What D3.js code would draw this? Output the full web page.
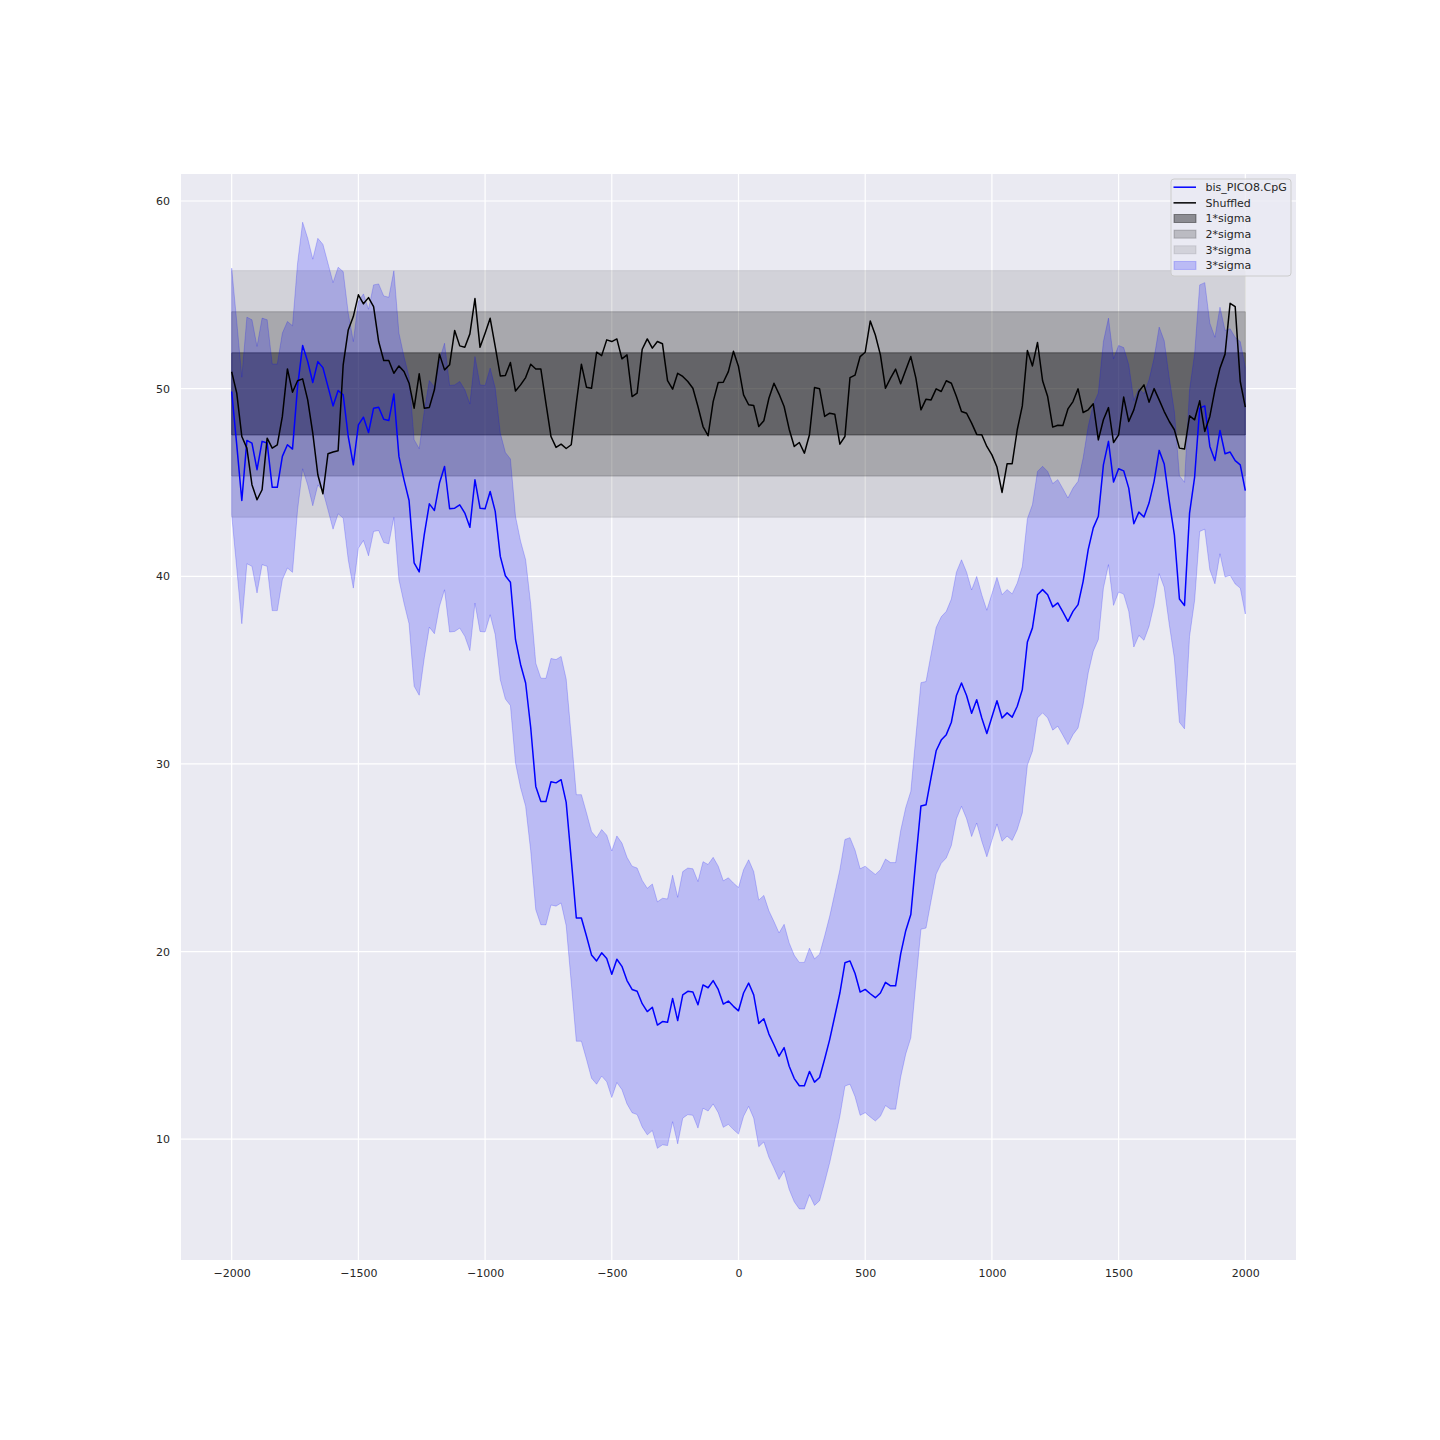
<!DOCTYPE html>
<html><head><meta charset="utf-8">
<script src="https://cdn.jsdelivr.net/npm/d3@7"></script>
<style>body{margin:0;background:#fff} svg{display:block}</style>
</head><body>
<svg id="chart" width="1440" height="1440"></svg>
<script>
// ---------- data ----------
const xPositions = d3.range(-2000, 2001, 20);   // sampling positions (201)
const picoValues = [
49.85,47.0,44.04,47.24,47.1,45.68,47.19,47.1,44.74,44.74,
46.39,47.01,46.78,50.11,52.3,51.44,50.33,51.44,51.12,50.11,
49.08,49.9,49.67,47.45,45.94,48.07,48.48,47.66,48.96,49.01,
48.37,48.3,49.71,46.39,45.14,44.04,40.71,40.23,42.22,43.86,
43.51,44.97,45.85,43.6,43.63,43.81,43.37,42.61,45.14,43.63,
43.6,44.52,43.46,41.06,40.03,39.68,36.62,35.3,34.31,31.94,
28.8,28.0,27.99,29.05,28.99,29.16,27.95,24.91,21.79,21.79,
20.83,19.82,19.5,19.93,19.63,18.79,19.59,19.21,18.45,17.98,
17.88,17.22,16.8,17.03,16.08,16.27,16.23,17.5,16.32,17.69,
17.88,17.84,17.16,18.22,18.07,18.45,17.98,17.2,17.36,17.08,
16.84,17.79,18.32,17.69,16.17,16.42,15.6,15.03,14.42,14.88,
13.89,13.23,12.85,12.85,13.61,13.04,13.29,14.27,15.32,16.55,
17.79,19.4,19.5,18.83,17.84,17.98,17.75,17.54,17.79,18.36,
18.17,18.17,19.88,21.11,21.97,24.91,27.76,27.82,29.28,30.7,
31.27,31.56,32.22,33.65,34.31,33.65,32.7,33.42,32.45,31.62,
32.5,33.37,32.45,32.72,32.49,33.07,33.96,36.5,37.25,39.02,
39.29,39.02,38.37,38.58,38.1,37.6,38.13,38.49,39.73,41.42,
42.58,43.2,45.94,47.19,45.02,45.73,45.62,44.7,42.8,43.42,
43.16,43.9,45.06,46.71,45.98,43.99,42.21,38.79,38.44,43.37,
45.29,48.96,49.08,46.92,46.17,47.77,46.53,46.62,46.16,45.94,
44.56
];
const shuffledValues = [
50.9,49.76,47.45,46.83,44.88,44.08,44.61,47.36,46.83,47.0,
48.52,51.05,49.81,50.42,50.52,49.4,47.63,45.41,44.4,46.53,
46.62,46.69,51.27,53.13,53.84,55.0,54.52,54.85,54.37,52.51,
51.5,51.5,50.82,51.21,50.91,50.29,48.96,50.79,48.96,49.0,
49.94,51.84,51.0,51.27,53.1,52.28,52.21,52.92,54.8,52.2,
52.95,53.75,52.24,50.68,50.7,51.39,49.87,50.2,50.59,51.3,
51.05,51.05,49.23,47.45,46.87,47.04,46.81,47.01,49.23,51.3,
50.08,50.02,51.94,51.76,52.6,52.51,52.65,51.59,51.8,49.58,
49.76,52.1,52.65,52.16,52.51,52.39,50.43,49.97,50.82,50.65,
50.38,50.02,49.05,47.98,47.49,49.31,50.33,50.34,50.91,51.99,
51.18,49.67,49.14,49.1,47.98,48.29,49.49,50.29,49.71,49.05,
47.84,46.92,47.13,46.56,47.54,50.06,49.99,48.52,48.69,48.64,
47.04,47.45,50.59,50.72,51.71,51.94,53.61,52.86,51.8,50.02,
50.56,51.04,50.26,51.0,51.71,50.56,48.87,49.44,49.4,49.99,
49.85,50.42,50.29,49.58,48.78,48.69,48.16,47.56,47.54,46.92,
46.47,45.82,44.47,46.0,46.0,47.81,49.08,52.03,51.21,52.46,
50.42,49.58,47.95,48.05,48.04,48.92,49.31,49.99,48.73,48.87,
49.19,47.27,48.34,48.99,47.13,47.54,49.55,48.25,48.87,49.85,
50.2,49.28,50.0,49.4,48.78,48.25,47.81,46.83,46.78,48.55,
48.34,49.35,47.72,48.52,49.94,51.09,51.84,54.55,54.37,50.38,
49.01
];
const shuffledMean = 49.72;
const shuffledSigma = 2.19;
const sigmaLevels = [1, 2, 3];
const sigmaAlphas = [0.4, 0.2, 0.1];
const picoBandLevel = 3;
const xTicks = [-2000, -1500, -1000, -500, 0, 500, 1000, 1500, 2000];
const yTicks = [10, 20, 30, 40, 50, 60];
const legendLabels = ["bis_PICO8.CpG", "Shuffled", "1*sigma", "2*sigma", "3*sigma", "3*sigma"];

// ---------- layout ----------
const pLeft = 181, pRight = 1296, pTop = 174, pBottom = 1260;
const font = "DejaVu Sans, sans-serif";
const svg = d3.select("#chart");

const x = d3.scaleLinear().domain([-2200, 2200]).range([pLeft, pRight]);
const y = d3.scaleLinear().domain([3.56, 61.44]).range([pBottom, pTop]);

svg.append("rect").attr("x", pLeft).attr("y", pTop)
  .attr("width", pRight - pLeft).attr("height", pBottom - pTop).attr("fill", "#EAEAF2");

// grid
const grid = svg.append("g");
grid.selectAll(".gx").data(xTicks).join("line")
  .attr("x1", d => x(d)).attr("x2", d => x(d)).attr("y1", pTop).attr("y2", pBottom)
  .attr("stroke", "#fff").attr("stroke-width", 1.2);
grid.selectAll(".gy").data(yTicks).join("line")
  .attr("y1", d => y(d)).attr("y2", d => y(d)).attr("x1", pLeft).attr("x2", pRight)
  .attr("stroke", "#fff").attr("stroke-width", 1.2);

svg.append("clipPath").attr("id", "clip").append("rect")
  .attr("x", pLeft).attr("y", pTop).attr("width", pRight - pLeft).attr("height", pBottom - pTop);
const plot = svg.append("g").attr("clip-path", "url(#clip)");

// sigma bands of shuffled data
const xMin = d3.min(xPositions), xMax = d3.max(xPositions);
sigmaLevels.forEach((k, i) => {
  const area = d3.area().x(d => x(d)).y0(y(shuffledMean - k * shuffledSigma)).y1(y(shuffledMean + k * shuffledSigma));
  plot.append("path").datum([xMin, xMax]).attr("d", area)
    .attr("fill", "#000").attr("fill-opacity", sigmaAlphas[i])
    .attr("stroke", "#000").attr("stroke-opacity", sigmaAlphas[i]).attr("stroke-width", 1);
});

// blue band
const pts = xPositions.map((v, i) => ({x: v, p: picoValues[i], s: shuffledValues[i]}));
const bandArea = d3.area().x(d => x(d.x))
  .y0(d => y(d.p - picoBandLevel * shuffledSigma))
  .y1(d => y(d.p + picoBandLevel * shuffledSigma));
plot.append("path").datum(pts).attr("d", bandArea)
  .attr("fill", "#0000ff").attr("fill-opacity", 0.2)
  .attr("stroke", "#0000ff").attr("stroke-opacity", 0.2).attr("stroke-width", 1);

// lines
plot.append("path").datum(pts)
  .attr("d", d3.line().x(d => x(d.x)).y(d => y(d.p)))
  .attr("fill", "none").attr("stroke", "#0000ff").attr("stroke-width", 1.5)
  .attr("stroke-linejoin", "round");
plot.append("path").datum(pts)
  .attr("d", d3.line().x(d => x(d.x)).y(d => y(d.s)))
  .attr("fill", "none").attr("stroke", "#000").attr("stroke-width", 1.5)
  .attr("stroke-linejoin", "round");

// axes
const fmt = d => d < 0 ? "\u2212" + Math.abs(d) : String(d);
const xAxis = d3.axisBottom(x).tickValues(xTicks).tickSize(0).tickPadding(9).tickFormat(fmt);
const gx = svg.append("g").attr("transform", `translate(0,${pBottom})`).call(xAxis);
const yAxis = d3.axisLeft(y).tickValues(yTicks).tickSize(0).tickPadding(11).tickFormat(fmt);
const gy = svg.append("g").attr("transform", `translate(${pLeft},0)`).call(yAxis);
[gx, gy].forEach(g => {
  g.select(".domain").remove();
  g.selectAll("text").attr("font-family", font).attr("font-size", 11).attr("fill", "#262626");
});

// legend
const lg = svg.append("g");
const lx = 1171, ly = 179, lw = 120, lh = 97;
lg.append("rect").attr("x", lx).attr("y", ly).attr("width", lw).attr("height", lh)
  .attr("rx", 3).attr("fill", "#EAEAF2").attr("fill-opacity", 0.8)
  .attr("stroke", "#cccccc").attr("stroke-width", 1);
const legendStyles = [
  {type: "line", color: "#0000ff"},
  {type: "line", color: "#000"},
  {type: "patch", color: "#000", alpha: sigmaAlphas[0]},
  {type: "patch", color: "#000", alpha: sigmaAlphas[1]},
  {type: "patch", color: "#000", alpha: sigmaAlphas[2]},
  {type: "patch", color: "#0000ff", alpha: 0.2}
];
legendLabels.forEach((lab, i) => {
  const cy = 187.2 + i * 15.65;
  const st = legendStyles[i];
  if (st.type === "line") {
    lg.append("line").attr("x1", 1173.5).attr("x2", 1196).attr("y1", cy).attr("y2", cy)
      .attr("stroke", st.color).attr("stroke-width", 1.5);
  } else {
    lg.append("rect").attr("x", 1174).attr("y", cy - 4).attr("width", 22).attr("height", 8)
      .attr("fill", st.color).attr("fill-opacity", st.alpha)
      .attr("stroke", st.color).attr("stroke-opacity", st.alpha).attr("stroke-width", 1);
  }
  lg.append("text").attr("x", 1205.5).attr("y", cy).attr("dy", "0.35em")
    .attr("font-family", font).attr("font-size", 11).attr("fill", "#262626").text(lab);
});
</script>
</body></html>
